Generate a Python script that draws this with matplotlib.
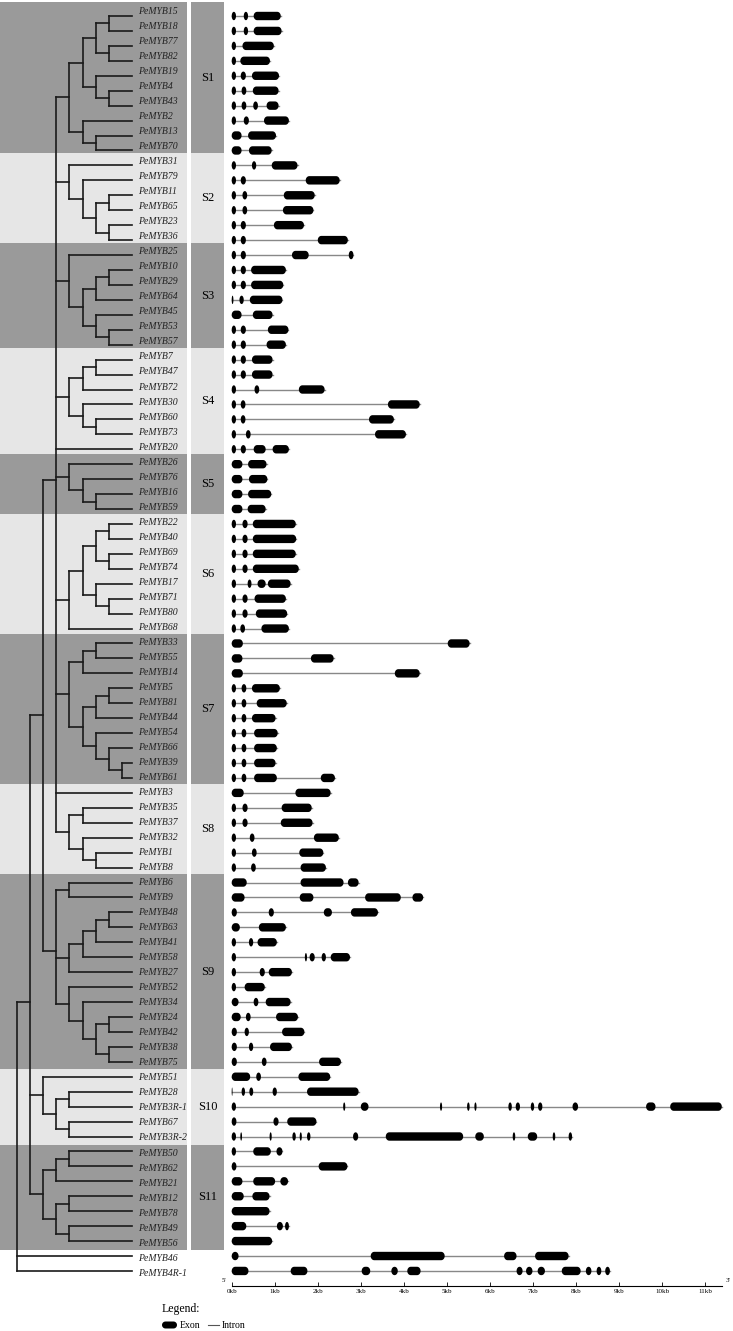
import numpy as np
import matplotlib
matplotlib.use("Agg")
import matplotlib.pyplot as plt
from matplotlib.patches import Rectangle, Polygon

# genes in the order they appear (top to bottom)
genes = ['PeMYB15', 'PeMYB18', 'PeMYB77', 'PeMYB82', 'PeMYB19', 'PeMYB4', 'PeMYB43', 'PeMYB2', 'PeMYB13', 'PeMYB70',
         'PeMYB31', 'PeMYB79', 'PeMYB11', 'PeMYB65', 'PeMYB23', 'PeMYB36',
         'PeMYB25', 'PeMYB10', 'PeMYB29', 'PeMYB64', 'PeMYB45', 'PeMYB53', 'PeMYB57',
         'PeMYB7', 'PeMYB47', 'PeMYB72', 'PeMYB30', 'PeMYB60', 'PeMYB73', 'PeMYB20',
         'PeMYB26', 'PeMYB76', 'PeMYB16', 'PeMYB59',
         'PeMYB22', 'PeMYB40', 'PeMYB69', 'PeMYB74', 'PeMYB17', 'PeMYB71', 'PeMYB80', 'PeMYB68',
         'PeMYB33', 'PeMYB55', 'PeMYB14', 'PeMYB5', 'PeMYB81', 'PeMYB44', 'PeMYB54', 'PeMYB66', 'PeMYB39', 'PeMYB61',
         'PeMYB3', 'PeMYB35', 'PeMYB37', 'PeMYB32', 'PeMYB1', 'PeMYB8',
         'PeMYB6', 'PeMYB9', 'PeMYB48', 'PeMYB63', 'PeMYB41', 'PeMYB58', 'PeMYB27', 'PeMYB52', 'PeMYB34', 'PeMYB24',
         'PeMYB42', 'PeMYB38', 'PeMYB75',
         'PeMYB51', 'PeMYB28', 'PeMYB3R-1', 'PeMYB67', 'PeMYB3R-2',
         'PeMYB50', 'PeMYB62', 'PeMYB21', 'PeMYB12', 'PeMYB78', 'PeMYB49', 'PeMYB56',
         'PeMYB46', 'PeMYB4R-1']

# exon (start, end) in kb, same order as genes
exons = [
    [(0, .1), (.28, .38), (.51, 1.14)],
    [(0, .1), (.28, .38), (.51, 1.16)],
    [(0, .1), (.25, .98)],
    [(0, .1), (.2, .89)],
    [(0, .1), (.21, .33), (.47, 1.1)],
    [(0, .1), (.23, .34), (.49, 1.09)],
    [(0, .1), (.23, .34), (.5, .61), (.81, 1.09)],
    [(0, .1), (.28, .4), (.75, 1.33)],
    [(0, .23), (.38, 1.03)],
    [(0, .23), (.4, .93)],
    [(0, .1), (.47, .57), (.93, 1.53)],
    [(0, .1), (.21, .33), (1.72, 2.51)],
    [(0, .1), (.25, .36), (1.21, 1.93)],
    [(0, .1), (.25, .36), (1.19, 1.9)],
    [(0, .1), (.21, .33), (.98, 1.68)],
    [(0, .1), (.21, .33), (2.0, 2.7)],
    [(0, .1), (.21, .33), (1.4, 1.79), (2.72, 2.83)],
    [(0, .1), (.21, .33), (.45, 1.26)],
    [(0, .1), (.21, .33), (.45, 1.2)],
    [(0, .04), (.18, .28), (.42, 1.18)],
    [(0, .23), (.49, .95)],
    [(0, .1), (.21, .33), (.84, 1.32)],
    [(0, .1), (.21, .33), (.81, 1.26)],
    [(0, .1), (.21, .33), (.47, .95)],
    [(0, .1), (.21, .33), (.47, .95)],
    [(0, .1), (.53, .64), (1.56, 2.16)],
    [(0, .1), (.21, .32), (3.63, 4.37)],
    [(0, .1), (.21, .32), (3.19, 3.77)],
    [(0, .1), (.33, .44), (3.33, 4.05)],
    [(0, .1), (.21, .33), (.51, .79), (.95, 1.33)],
    [(0, .25), (.38, .81)],
    [(0, .25), (.4, .83)],
    [(0, .25), (.38, .92)],
    [(0, .25), (.37, .79)],
    [(0, .1), (.25, .37), (.49, 1.49)],
    [(0, .1), (.25, .37), (.49, 1.5)],
    [(0, .1), (.25, .37), (.49, 1.49)],
    [(0, .1), (.25, .37), (.49, 1.56)],
    [(0, .1), (.37, .46), (.6, .79), (.84, 1.37)],
    [(0, .1), (.25, .37), (.53, 1.26)],
    [(0, .1), (.25, .37), (.56, 1.29)],
    [(0, .1), (.2, .31), (.69, 1.33)],
    [(0, .26), (5.02, 5.53)],
    [(0, .25), (1.84, 2.37)],
    [(0, .26), (3.79, 4.37)],
    [(0, .1), (.23, .34), (.47, 1.12)],
    [(0, .1), (.23, .34), (.58, 1.28)],
    [(0, .1), (.23, .34), (.47, 1.02)],
    [(0, .1), (.23, .34), (.52, 1.07)],
    [(0, .1), (.23, .34), (.52, 1.05)],
    [(0, .1), (.23, .34), (.52, 1.02)],
    [(0, .1), (.23, .34), (.52, 1.05), (2.07, 2.4)],
    [(0, .28), (1.48, 2.3)],
    [(0, .1), (.25, .37), (1.16, 1.86)],
    [(0, .1), (.25, .37), (1.14, 1.88)],
    [(0, .1), (.42, .53), (1.91, 2.49)],
    [(0, .1), (.47, .58), (1.57, 2.13)],
    [(0, .1), (.45, .56), (1.6, 2.19)],
    [(0, .35), (1.6, 2.6), (2.7, 2.95)],
    [(0, .3), (1.58, 1.9), (3.1, 3.93), (4.2, 4.45)],
    [(0, .12), (.86, .98), (2.14, 2.33), (2.77, 3.4)],
    [(0, .19), (.63, 1.26)],
    [(0, .1), (.4, .5), (.6, 1.05)],
    [(0, .1), (1.7, 1.75), (1.81, 1.93), (2.09, 2.19), (2.3, 2.75)],
    [(0, .1), (.65, .77), (.86, 1.4)],
    [(0, .1), (.3, .77)],
    [(0, .16), (.51, .62), (.79, 1.37)],
    [(0, .21), (.33, .44), (1.03, 1.54)],
    [(0, .12), (.3, .4), (1.17, 1.69)],
    [(0, .12), (.4, .5), (.89, 1.4)],
    [(0, .12), (.7, .81), (2.03, 2.54)],
    [(0, .43), (.57, .68), (1.55, 2.29)],
    [(0, .02), (.23, .31), (.41, .5), (.95, 1.05), (1.75, 2.95)],
    [(0, .1), (2.59, 2.64), (3.0, 3.18), (4.84, 4.89), (5.47, 5.53), (5.64, 5.69), (6.43, 6.51),
     (6.6, 6.7), (6.95, 7.03), (7.12, 7.22), (7.92, 8.05), (9.63, 9.85), (10.19, 11.39)],
    [(0, .11), (.97, 1.09), (1.29, 1.97)],
    [(0, .1), (.2, .24), (.88, .93), (1.41, 1.49), (1.58, 1.63), (1.75, 1.83), (2.82, 2.94),
     (3.58, 5.38), (5.66, 5.86), (6.53, 6.59), (6.88, 7.1), (7.46, 7.52), (7.83, 7.91)],
    [(0, .1), (.5, .91), (1.04, 1.18)],
    [(0, .11), (2.02, 2.69)],
    [(0, .25), (.5, 1.01), (1.13, 1.31)],
    [(0, .28), (.48, .88)],
    [(0, .88)],
    [(0, .34), (1.05, 1.19), (1.24, 1.33)],
    [(0, .94)],
    [(0, .16), (3.23, 4.95), (6.33, 6.62), (7.05, 7.83)],
    [(0, .39), (1.37, 1.76), (3.02, 3.22), (3.71, 3.86), (4.08, 4.39), (6.62, 6.76), (6.84, 6.99),
     (7.11, 7.28), (7.67, 8.11), (8.23, 8.36), (8.48, 8.59), (8.68, 8.79)],
]

# subfamily bands
group_names = ['S1', 'S2', 'S3', 'S4', 'S5', 'S6', 'S7', 'S8', 'S9', 'S10', 'S11']
group_sizes = [10, 6, 7, 7, 4, 8, 10, 6, 13, 5, 7]

# tree: (level, [children]); leaves are gene names
S1 = (4, [(5, [(6, [(7, ['PeMYB15', 'PeMYB18']), (7, ['PeMYB77', 'PeMYB82'])]),
              (6, ['PeMYB19', (7, ['PeMYB4', 'PeMYB43'])])]),
          (5, ['PeMYB2', (6, ['PeMYB13', 'PeMYB70'])])])
S2 = (4, ['PeMYB31', (5, ['PeMYB79', (6, [(7, ['PeMYB11', 'PeMYB65']), (7, ['PeMYB23', 'PeMYB36'])])])])
S3 = (4, ['PeMYB25', (5, [(6, [(7, ['PeMYB10', 'PeMYB29']), 'PeMYB64']),
                          (6, ['PeMYB45', (7, ['PeMYB53', 'PeMYB57'])])])])
S4 = (4, [(5, [(6, ['PeMYB7', 'PeMYB47']), 'PeMYB72']), (5, ['PeMYB30', (6, ['PeMYB60', 'PeMYB73'])])])
S5 = (4, ['PeMYB26', (5, ['PeMYB76', (6, ['PeMYB16', 'PeMYB59'])])])
S6 = (4, [(5, [(6, [(7, ['PeMYB22', 'PeMYB40']), (7, ['PeMYB69', 'PeMYB74'])]),
              (6, ['PeMYB17', (7, ['PeMYB71', 'PeMYB80'])])]), 'PeMYB68'])
S7 = (4, [(5, [(6, ['PeMYB33', 'PeMYB55']), 'PeMYB14']),
          (5, [(6, [(7, ['PeMYB5', 'PeMYB81']), 'PeMYB44']),
               (6, ['PeMYB54', (7, ['PeMYB66', (8, ['PeMYB39', 'PeMYB61'])])])])])
S8 = (4, [(5, ['PeMYB35', 'PeMYB37']), (5, ['PeMYB32', (6, ['PeMYB1', 'PeMYB8'])])])
S9 = (3, [(4, ['PeMYB6', 'PeMYB9']),
          (4, [(5, [(6, [(7, ['PeMYB48', 'PeMYB63']), 'PeMYB41']), 'PeMYB58']), 'PeMYB27']),
          (4, ['PeMYB52', (5, ['PeMYB34', (6, [(7, ['PeMYB24', 'PeMYB42']), (7, ['PeMYB38', 'PeMYB75'])])])])])
S10 = (2, ['PeMYB51', (3, [(4, ['PeMYB28', 'PeMYB3R-1']), (4, ['PeMYB67', 'PeMYB3R-2'])])])
S11 = (2, [(3, [(4, ['PeMYB50', 'PeMYB62']), 'PeMYB21']),
           (3, [(4, ['PeMYB12', 'PeMYB78']), (4, ['PeMYB49', 'PeMYB56'])])])
tree = (0, [(1, [(2, [(3, [S1, S2, S3, S4, 'PeMYB20', S5, S6, S7, 'PeMYB3', S8]), S9]), S10, S11]),
            'PeMYB46', 'PeMYB4R-1'])

kb_ticks = list(range(12))

# layout (pixels)
W, H = 733, 1331
row0, row_step = 16, 14.94
lab0, lab_step = 14, 15.02
tip_x, lvl0, lvl_step = 132, 17, 13.1
axis_y = 1286
DARK, LIGHT = '#9a9a9a', '#e6e6e6'
SERIF = 'Liberation Serif'

row_y = {g: row0 + row_step * i for i, g in enumerate(genes)}


def capsule(s, e, y, rx, ry, n=14):
    rx = min(rx, (e - s) / 2)
    t = np.linspace(-np.pi / 2, np.pi / 2, n)
    right = np.c_[e - rx + rx * np.cos(t), y + ry * np.sin(t)]
    left = np.c_[s + rx - rx * np.cos(t), y - ry * np.sin(t)]
    return np.vstack([right, left])


def main():
    fig = plt.figure(figsize=(W / 100, H / 100), dpi=100)
    ax = fig.add_axes([0, 0, 1, 1])
    ax.set_xlim(0, W)
    ax.set_ylim(H, 0)
    ax.axis('off')

    # bands + group labels
    start = 0
    for k, (name, n) in enumerate(zip(group_names, group_sizes)):
        top = lab0 - 3.5 + lab_step * (start - 0.5)
        bot = lab0 - 3.5 + lab_step * (start + n - 0.5)
        if k == 0:
            top = 2
        c = DARK if k % 2 == 0 else LIGHT
        ax.add_patch(Rectangle((0, top), 187, bot - top, color=c, lw=0))
        ax.add_patch(Rectangle((191, top), 33, bot - top, color=c, lw=0))
        ax.text(207.5, (top + bot) / 2, name, ha='center', va='center', fontsize=9, family=SERIF)
        start += n

    # tree
    def draw(node):
        if isinstance(node, str):
            return tip_x, row_y[node]
        level, kids = node
        x = lvl0 + lvl_step * level
        pts = [draw(k) for k in kids]
        ys = [p[1] for p in pts]
        ax.plot([x, x], [min(ys), max(ys)], color='#1a1a1a', lw=1.2, solid_capstyle='projecting')
        for cx, cy in pts:
            ax.plot([x, cx], [cy, cy], color='#1a1a1a', lw=1.2, solid_capstyle='projecting')
        return x, np.mean(ys)

    draw(tree)

    for i, g in enumerate(genes):
        ax.text(138, lab0 + lab_step * i, g, fontsize=7, family=SERIF, style='italic',
                va='baseline', ha='left', color='#222222')

    # gene structures
    kb_px = 43.03
    gx0 = 231.7
    gw = 490
    gax = fig.add_axes([gx0 / W, (H - axis_y) / H, gw / W, axis_y / H])
    gax.set_xlim(0, gw / kb_px)
    gax.set_ylim(axis_y, 0)
    gax.patch.set_visible(False)
    for sp in ['top', 'right', 'left']:
        gax.spines[sp].set_visible(False)
    gax.spines['bottom'].set_linewidth(0.8)
    gax.set_yticks([])
    gax.set_xticks(kb_ticks)
    gax.set_xticklabels([f'{k}kb' for k in kb_ticks], fontsize=5, family=SERIF)
    gax.tick_params(axis='x', direction='in', length=3, width=0.6, pad=2)

    rx = 3.5 / kb_px
    for g, ex in zip(genes, exons):
        y = row_y[g]
        gax.plot([ex[0][0], ex[-1][1]], [y, y], color='#888888', lw=1.0, zorder=1, clip_on=False)
        for s, e in ex:
            gax.add_patch(Polygon(capsule(s, e, y, rx, 4.2), closed=True, color='black', lw=0,
                                  zorder=2, clip_on=False))

    ax.text(224, 1281, "5'", fontsize=5, family=SERIF, ha='center', va='center')
    ax.text(728, 1281, "3'", fontsize=5, family=SERIF, ha='center', va='center')

    # legend
    ax.text(162, 1309, 'Legend:', fontsize=8.5, family=SERIF, va='center', ha='left')
    ax.add_patch(Polygon(capsule(162, 177, 1325, 3.5, 3.5), closed=True, color='black', lw=0))
    ax.text(180, 1325, 'Exon', fontsize=7, family=SERIF, va='center', ha='left')
    ax.plot([208, 219], [1325, 1325], color='#555555', lw=0.8)
    ax.text(222, 1325, 'Intron', fontsize=7, family=SERIF, va='center', ha='left')

    fig.savefig('out.png', dpi=100)


if __name__ == '__main__':
    main()
